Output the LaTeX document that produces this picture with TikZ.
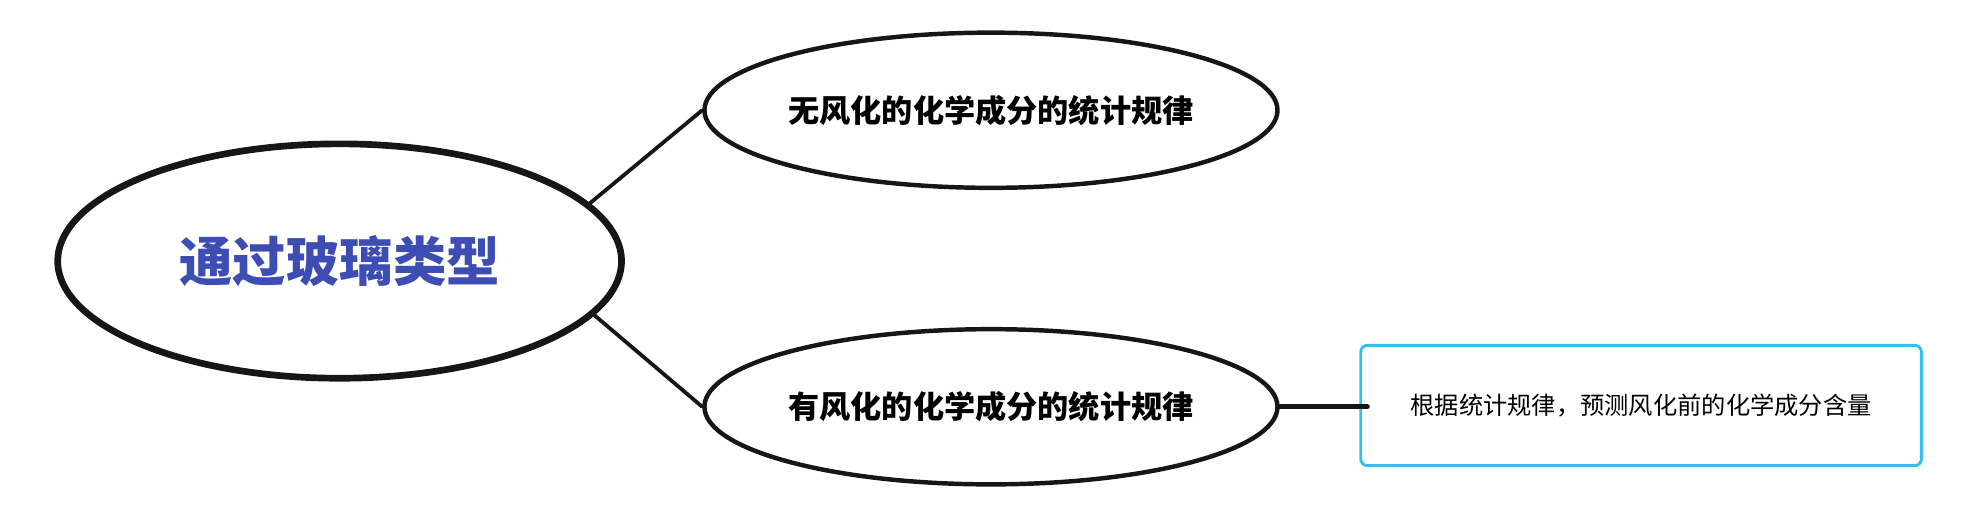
\documentclass[tikz,border=0pt]{standalone}
\usepackage{fontspec}
\setmainfont{Noto Sans CJK SC}
\usetikzlibrary{shapes.geometric}
\definecolor{titleblue}{HTML}{3D4DB3}
\definecolor{boxblue}{HTML}{36BDF4}
\definecolor{inkgray}{HTML}{161616}

\begin{document}
\begin{tikzpicture}[x=0.02cm, y=-0.02cm, line cap=round]
            \tikzset{
                topic/.style={ellipse, draw=inkgray, line width=3pt, minimum width=8.9cm, minimum height=3.7cm, inner sep=0pt},
                branch/.style={ellipse, draw=inkgray, line width=2pt, minimum width=8.9cm, minimum height=2.45cm, inner sep=0pt},
                leaf/.style={draw=boxblue, line width=1.3pt, rounded corners=3pt, minimum width=8.85cm, minimum height=1.9cm, inner sep=0pt},
                link/.style={draw=inkgray, line width=1.7pt}
            };
            \useasboundingbox (0, 0) rectangle (1568, 401);
            \node[topic] (type) at (268, 206) {\fontsize{24}{27}\selectfont\bfseries\color{titleblue}通过玻璃类型};
            \node[branch] (plain) at (782, 87) {\fontsize{14}{17}\selectfont\bfseries 无风化的化学成分的统计规律};
            \node[branch] (weathered) at (782, 321) {\fontsize{14}{17}\selectfont\bfseries 有风化的化学成分的统计规律};
            \node[leaf] (predict) at (1295, 320) {\fontsize{10.9}{13}\selectfont 根据统计规律，预测风化前的化学成分含量};
            \coordinate (tip) at (1079, 321);
            \draw[link] (type.13) -- (plain.west);
            \draw[link] (type.-12) -- (weathered.west);
            \draw[link, line width=2.2pt] (weathered.east) -- (tip);
        \end{tikzpicture}
\end{document}
